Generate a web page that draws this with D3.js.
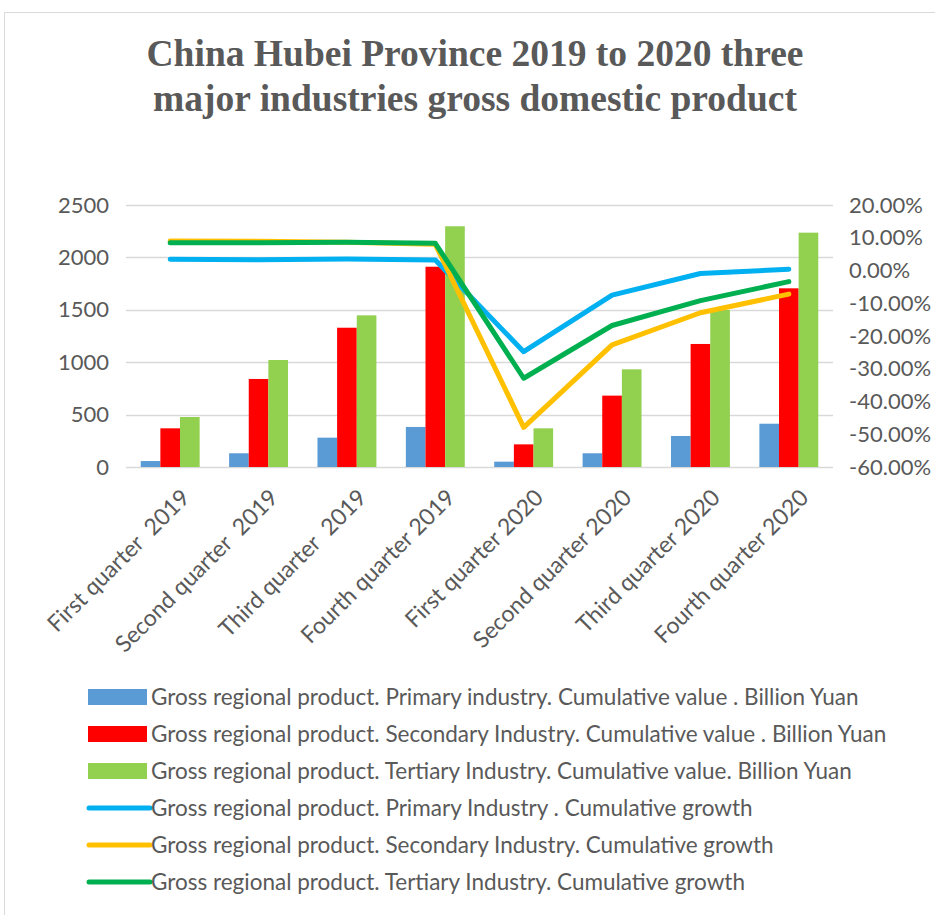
<!DOCTYPE html>
<html>
<head>
<meta charset="utf-8">
<script src="https://cdn.jsdelivr.net/npm/d3@7"></script>
<style>
  body { margin: 0; background: #fff; }
  text { font-family: Lato, "Open Sans", sans-serif; fill: #595959; }
</style>
</head>
<body>
<div id="chart"></div>
<script>
// Quarters
const quarters = [
  "First quarter  2019", "Second quarter  2019", "Third quarter  2019", "Fourth quarter 2019",
  "First quarter 2020", "Second quarter 2020", "Third quarter 2020", "Fourth quarter 2020"
];

// Cumulative values, billion yuan
const primaryValue = [57, 131, 280, 382, 51, 131, 296, 413];
const secondaryValue = [369, 840, 1329, 1911, 216, 681, 1174, 1705];
const tertiaryValue = [477, 1021, 1447, 2297, 369, 932, 1498, 2236];

// Cumulative growth, percent
const primaryGrowth = [3.4, 3.3, 3.5, 3.2, -24.8, -7.5, -0.9, 0.4];
const secondaryGrowth = [9.0, 8.9, 8.6, 8.0, -47.9, -22.7, -12.9, -7.2];
const tertiaryGrowth = [8.5, 8.5, 8.6, 8.3, -32.9, -16.8, -9.2, -3.4];

const leftTicks = [0, 500, 1000, 1500, 2000, 2500];
const rightTicks = [20, 10, 0, -10, -20, -30, -40, -50, -60];

const barSeries = [
  { name: "Gross regional product. Primary industry. Cumulative value . Billion Yuan", values: primaryValue, color: "#5B9BD5" },
  { name: "Gross regional product. Secondary Industry. Cumulative value . Billion Yuan", values: secondaryValue, color: "#FF0000" },
  { name: "Gross regional product. Tertiary Industry. Cumulative value. Billion Yuan", values: tertiaryValue, color: "#92D050" }
];
const lineSeries = [
  { name: "Gross regional product. Primary Industry . Cumulative growth", values: primaryGrowth, color: "#00B0F0" },
  { name: "Gross regional product. Secondary Industry. Cumulative growth", values: secondaryGrowth, color: "#FFC000" },
  { name: "Gross regional product. Tertiary Industry. Cumulative growth", values: tertiaryGrowth, color: "#00B050" }
];

const width = 935, height = 915;
const plot = { left: 126, right: 833, top: 205, bottom: 467 };

const svg = d3.select("#chart").append("svg")
  .attr("width", width)
  .attr("height", height);

// Chart frame
svg.append("rect")
  .attr("x", 4.5).attr("y", 12.5)
  .attr("width", 960).attr("height", 960)
  .attr("fill", "none")
  .attr("stroke", "#D9D9D9");

// Title
const title = svg.append("text")
  .attr("text-anchor", "middle")
  .style("font-family", "'Liberation Serif', 'Times New Roman', serif")
  .style("font-weight", "bold")
  .style("font-size", "37.5px");
title.append("tspan").attr("x", 475).attr("y", 66).text("China Hubei Province 2019 to 2020 three");
title.append("tspan").attr("x", 475).attr("y", 111).text("major industries gross domestic product");

// Scales
const x = d3.scaleBand()
  .domain(quarters)
  .range([plot.left, plot.right]);

const xInner = d3.scaleBand()
  .domain(d3.range(barSeries.length))
  .range([0, x.bandwidth()])
  .paddingOuter(0.75);

const y = d3.scaleLinear()
  .domain([0, 2500])
  .range([plot.bottom, plot.top]);

const y2 = d3.scaleLinear()
  .domain([-60, 20])
  .range([plot.bottom, plot.top]);

// Gridlines
svg.append("g")
  .selectAll("line")
  .data(leftTicks)
  .join("line")
  .attr("x1", plot.left).attr("x2", plot.right)
  .attr("y1", (d) => Math.round(y(d)) + 0.5)
  .attr("y2", (d) => Math.round(y(d)) + 0.5)
  .attr("stroke", "#D9D9D9")
  .attr("stroke-width", 1.5);

// Left axis
const leftAxis = svg.append("g")
  .attr("transform", `translate(${plot.left},0)`)
  .call(d3.axisLeft(y).tickValues(leftTicks).tickSize(0).tickPadding(17)
    .tickFormat(d3.format("d")));
leftAxis.select(".domain").remove();
leftAxis.selectAll("text")
  .style("font-size", "22px")
  .style("font-family", "Lato, sans-serif")
  .attr("fill", "#595959");

// Right axis
const rightAxis = svg.append("g")
  .attr("transform", `translate(${plot.right},0)`)
  .call(d3.axisRight(y2).tickValues(rightTicks).tickSize(0).tickPadding(16)
    .tickFormat((d) => d.toFixed(2) + "%"));
rightAxis.select(".domain").remove();
rightAxis.selectAll("text")
  .style("font-size", "22px")
  .style("font-family", "Lato, sans-serif")
  .attr("fill", "#595959");

// Bars
barSeries.forEach((s, i) => {
  svg.append("g")
    .selectAll("rect")
    .data(s.values)
    .join("rect")
    .attr("x", (d, j) => x(quarters[j]) + xInner(i))
    .attr("width", xInner.bandwidth())
    .attr("y", (d) => y(d))
    .attr("height", (d) => y(0) - y(d))
    .attr("fill", s.color);
});

// Lines
const line = d3.line()
  .x((d, j) => x(quarters[j]) + x.bandwidth() / 2)
  .y((d) => y2(d));

lineSeries.forEach((s) => {
  svg.append("path")
    .datum(s.values)
    .attr("d", line)
    .attr("fill", "none")
    .attr("stroke", s.color)
    .attr("stroke-width", 5)
    .attr("stroke-linejoin", "round")
    .attr("stroke-linecap", "round");
});

// X labels, rotated
svg.append("g")
  .selectAll("text")
  .data(quarters)
  .join("text")
  .attr("transform", (d) => `translate(${x(d) + x.bandwidth() / 2 + 21},${plot.bottom + 32}) rotate(-45)`)
  .attr("text-anchor", "end")
  .attr("xml:space", "preserve")
  .style("white-space", "pre")
  .style("font-size", "23px")
  .text((d) => d);

// Legend
const legend = svg.append("g");
const rowY = (i) => 697 + i * 37;

barSeries.forEach((s, i) => {
  legend.append("rect")
    .attr("x", 88).attr("y", rowY(i) - 8)
    .attr("width", 59).attr("height", 16)
    .attr("fill", s.color);
});
lineSeries.forEach((s, i) => {
  legend.append("line")
    .attr("x1", 89).attr("x2", 150)
    .attr("y1", rowY(i + 3)).attr("y2", rowY(i + 3))
    .attr("stroke", s.color)
    .attr("stroke-width", 5)
    .attr("stroke-linecap", "round");
});
legend.selectAll("text")
  .data(barSeries.concat(lineSeries))
  .join("text")
  .attr("x", 151)
  .attr("y", (d, i) => rowY(i))
  .attr("dy", "0.35em")
  .style("font-size", "22.5px")
  .text((d) => d.name);
</script>
</body>
</html>
